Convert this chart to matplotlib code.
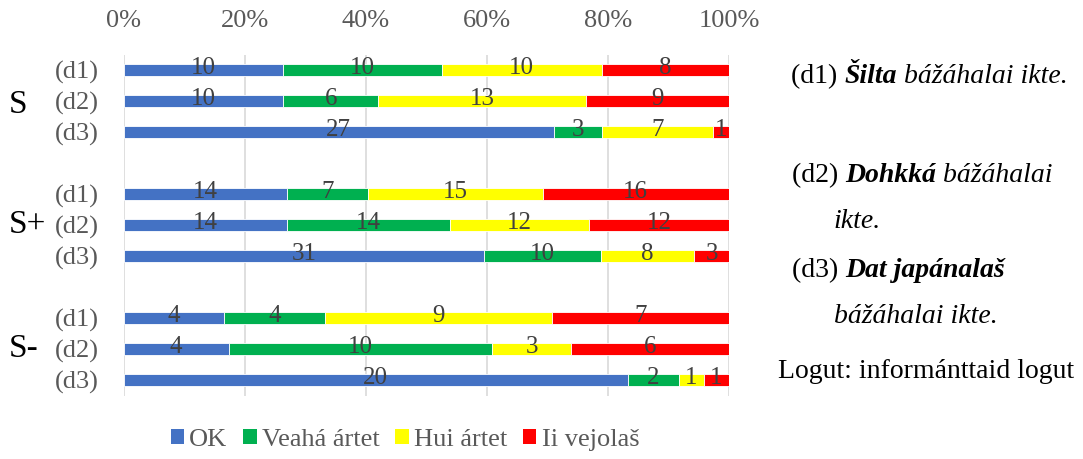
import numpy as np
import matplotlib
matplotlib.use("Agg")
import matplotlib.pyplot as plt
from matplotlib.patches import Patch

plt.rcParams['font.family'] = ['Liberation Serif', 'DejaVu Serif']

# data: counts per answer, per group / sentence type
groups = ["S", "S+", "S-"]
rows = ["(d1)", "(d2)", "(d3)"]
series = ["OK", "Veahá ártet", "Hui ártet", "Ii vejolaš"]
colors = ["#4472C4", "#00B050", "#FFFF00", "#FF0000"]
ok      = [10, 10, 27, 14, 14, 31, 4, 4, 20]
veaha   = [10, 6, 3, 7, 14, 10, 4, 10, 2]
hui     = [10, 13, 7, 15, 12, 8, 9, 3, 1]
ii      = [8, 9, 1, 16, 12, 3, 7, 6, 1]

counts = np.array([ok, veaha, hui, ii], dtype=float)
share = counts / counts.sum(axis=0)

# bar slots: 3 bars per group, one empty slot between groups
ypos = [0, 1, 2, 4, 5, 6, 8, 9, 10]

fig = plt.figure(figsize=(10.83, 4.59), dpi=100)
ax = fig.add_axes([123.5/1083, 1-395.5/459, (729-123.5)/1083, 341/459])

left = np.zeros(len(ypos))
for k in range(4):
    ax.barh(ypos, share[k], left=left, height=0.4, color=colors[k],
            edgecolor='white', linewidth=0.6, zorder=3)
    for y, l, w, c in zip(ypos, left, share[k], counts[k]):
        ax.text(l + w/2, y - 0.05, "%d" % c, ha='center', va='center',
                fontsize=18, color='#404040', zorder=4)
    left += share[k]

ax.set_xlim(0, 1)
ax.set_ylim(10.5, -0.5)
ax.set_xticks(np.arange(0, 1.01, 0.2))
ax.set_xticklabels(["%d%%" % v for v in range(0, 101, 20)])
ax.xaxis.tick_top()
ax.tick_params(axis='x', length=0, pad=16, labelsize=19, labelcolor='#595959')
ax.set_yticks(ypos)
ax.set_yticklabels(rows * 3)
ax.tick_params(axis='y', length=0, pad=18, labelsize=19, labelcolor='#595959')
ax.grid(axis='x', color='#D9D9D9', linewidth=1.2, zorder=0)
for s in ax.spines.values():
    s.set_visible(False)

# group labels
for g, yy in zip(groups, [105, 225, 349]):
    fig.text(9/1083, 1-yy/459, g, fontsize=24, ha='left', va='center')

# explanation text on the right (x, baseline y in pixels)
def line(x, y, parts):
    t = None
    for txt, st in parts:
        kw = dict(fontsize=20, ha='left', color='black')
        if st == 'bi':
            kw.update(fontweight='bold', fontstyle='italic')
        elif st == 'i':
            kw.update(fontstyle='italic')
        if t is None:
            t = fig.text(x/1083, 1-y/459, txt, va='baseline', **kw)
        else:
            t = ax.annotate(txt, xy=(1, 0), xycoords=t, xytext=(0, 0),
                            textcoords='offset points', annotation_clip=False,
                            va='bottom', **kw)

line(791, 83, [("(d1) ", ''), ("Šilta", 'bi'), (" bážáhalai ikte.", 'i')])
line(792, 182, [("(d2) ", ''), ("Dohkká", 'bi'), (" bážáhalai", 'i')])
line(833, 228, [("ikte.", 'i')])
line(792, 277, [("(d3) ", ''), ("Dat japánalaš", 'bi')])
line(834, 323, [("bážáhalai ikte.", 'i')])
line(778, 378, [("Logut: informánttaid logut", '')])

handles = [Patch(facecolor=c, edgecolor='none') for c in colors]
fig.legend(handles, series, loc='center', bbox_to_anchor=(405/1083, 1-440/459),
           ncol=4, frameon=False, fontsize=19, handlelength=0.5, handleheight=0.5,
           handletextpad=0.2, columnspacing=0.6, labelcolor='#595959')

fig.savefig("out.png", dpi=100)
